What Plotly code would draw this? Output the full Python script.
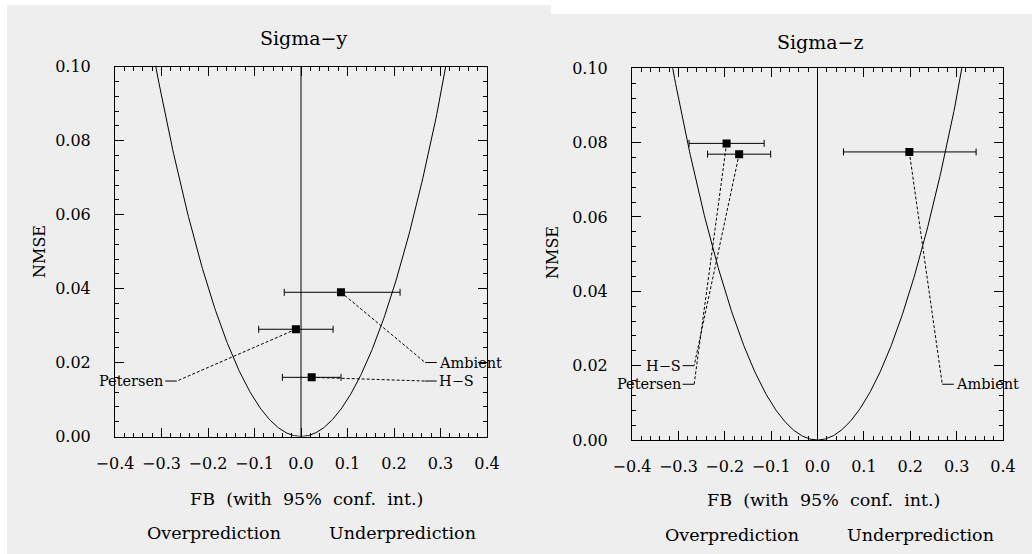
import numpy as np
import plotly.graph_objects as go

# ---- model performance data (FB, NMSE, 95% confidence interval on FB) ----
models = ["Ambient", "Petersen", "H−S"]

# Sigma-y panel
fb_sy = [0.086, -0.011, 0.023]
nmse_sy = [0.039, 0.029, 0.016]
fb_lo_sy = [-0.036, -0.091, -0.040]
fb_hi_sy = [0.213, 0.069, 0.086]

# Sigma-z panel
fb_sz = [0.198, -0.196, -0.169]
nmse_sz = [0.0775, 0.0798, 0.0769]
fb_lo_sz = [0.056, -0.277, -0.237]
fb_hi_sz = [0.342, -0.115, -0.101]

# callout anchors (where each model's leader line meets its label)
call_fb_sy = [0.267, -0.267, 0.267]
call_nmse_sy = [0.020, 0.015, 0.015]
call_fb_sz = [0.269, -0.266, -0.266]
call_nmse_sz = [0.015, 0.015, 0.020]

x_ticks = [-0.4, -0.3, -0.2, -0.1, 0.0, 0.1, 0.2, 0.3, 0.4]
y_ticks = [0.00, 0.02, 0.04, 0.06, 0.08, 0.10]

FONT = "DejaVu Serif"
INK = "black"
W, H = 1032, 554


def min_nmse(fb):
    """Lowest NMSE attainable for a given fractional bias."""
    return 4 * fb ** 2 / (4 - fb ** 2)


fb_curve = np.linspace(-0.4, 0.4, 401)
nmse_curve = min_nmse(fb_curve)

fig = go.Figure()


def add_panel(xr, yr, fb, nmse, lo, hi, call_fb, call_nmse):
    # minimum-NMSE parabola
    fig.add_trace(go.Scatter(x=fb_curve, y=nmse_curve, mode="lines",
                             line=dict(color=INK, width=1),
                             xaxis=xr, yaxis=yr, hoverinfo="skip"))
    # leader lines from each point to its label
    annotations = []
    for name, f, n, cf, cn in zip(models, fb, nmse, call_fb, call_nmse):
        side = 1 if cf > 0 else -1
        stub = cf + side * 0.025
        fig.add_trace(go.Scatter(x=[f, cf], y=[n, cn], mode="lines",
                                 line=dict(color=INK, width=1, dash="3px,2px"),
                                 xaxis=xr, yaxis=yr, hoverinfo="skip"))
        fig.add_trace(go.Scatter(x=[cf, stub], y=[cn, cn], mode="lines",
                                 line=dict(color=INK, width=1),
                                 xaxis=xr, yaxis=yr, hoverinfo="skip"))
        annotations.append(dict(
            x=stub, y=cn, xref=xr, yref=yr, text=name, showarrow=False,
            xanchor="left" if side > 0 else "right", yanchor="middle",
            font=dict(family=FONT, size=14.5, color=INK)))
    # points with confidence intervals
    fig.add_trace(go.Scatter(
        x=fb, y=nmse, mode="markers",
        marker=dict(symbol="square", size=8, color=INK),
        error_x=dict(type="data", symmetric=False,
                     array=[h - f for h, f in zip(hi, fb)],
                     arrayminus=[f - l for f, l in zip(fb, lo)],
                     color=INK, thickness=1, width=3.5),
        xaxis=xr, yaxis=yr, hoverinfo="skip"))
    return annotations


ann = []
ann += add_panel("x", "y", fb_sy, nmse_sy, fb_lo_sy, fb_hi_sy, call_fb_sy, call_nmse_sy)
ann += add_panel("x2", "y2", fb_sz, nmse_sz, fb_lo_sz, fb_hi_sz, call_fb_sz, call_nmse_sz)


def px_x(p):
    return p / W


def px_y(p):
    return 1 - p / H


text_font = dict(family=FONT, size=17.5, color=INK)
for label, cx, cy in [("Sigma−y", 304, 38), ("Sigma−z", 820, 42)]:
    ann.append(dict(x=px_x(cx), y=px_y(cy), xref="paper", yref="paper", text=label,
                    showarrow=False, xanchor="center", yanchor="middle",
                    font=dict(family=FONT, size=19, color=INK)))
for cx, cy in [(39, 252), (552, 253)]:
    ann.append(dict(x=px_x(cx), y=px_y(cy), xref="paper", yref="paper", text="NMSE",
                    showarrow=False, textangle=-90, xanchor="center", yanchor="middle",
                    font=dict(family=FONT, size=16, color=INK)))
for cx, cy in [(306, 499), (823, 500)]:
    ann.append(dict(x=px_x(cx), y=px_y(cy), xref="paper", yref="paper",
                    text="FB\u00a0 (with\u00a0 95%\u00a0 conf.\u00a0 int.)",
                    showarrow=False, xanchor="center", yanchor="middle", font=text_font))
for label, cx, cy in [("Overprediction", 214, 533), ("Underprediction", 402, 533),
                      ("Overprediction", 732, 535), ("Underprediction", 920, 535)]:
    ann.append(dict(x=px_x(cx), y=px_y(cy), xref="paper", yref="paper", text=label,
                    showarrow=False, xanchor="center", yanchor="middle", font=text_font))

tick_font = dict(family=FONT, size=16, color=INK)


def x_axis(domain, anchor):
    return dict(domain=domain, anchor=anchor, range=[-0.4, 0.4],
                tickmode="array", tickvals=x_ticks, tickformat=".1f",
                ticks="inside", ticklen=9, tickwidth=1, tickcolor=INK,
                minor=dict(dtick=0.02, tick0=0, ticks="inside", ticklen=4,
                           tickwidth=1, tickcolor=INK),
                showline=True, linecolor=INK, linewidth=1, mirror="ticks",
                showgrid=False, zeroline=False, tickfont=tick_font,
                ticklabelstandoff=12, automargin=False, fixedrange=True)


def y_axis(domain, anchor):
    return dict(domain=domain, anchor=anchor, range=[0, 0.1],
                tickmode="array", tickvals=y_ticks, tickformat=".2f",
                ticks="inside", ticklen=9, tickwidth=1, tickcolor=INK,
                minor=dict(dtick=0.004, tick0=0, ticks="inside", ticklen=4,
                           tickwidth=1, tickcolor=INK),
                showline=True, linecolor=INK, linewidth=1, mirror="ticks",
                showgrid=False, zeroline=False, tickfont=tick_font,
                ticklabelstandoff=20, automargin=False, fixedrange=True)


shapes = [
    # page panels
    dict(type="rect", xref="paper", yref="paper", x0=px_x(7), x1=px_x(551),
         y0=px_y(554), y1=px_y(5), fillcolor="#eeeeee", line=dict(width=0), layer="below"),
    dict(type="rect", xref="paper", yref="paper", x0=px_x(551), x1=1,
         y0=px_y(554), y1=px_y(14), fillcolor="#eeeeee", line=dict(width=0), layer="below"),
    # zero-bias reference lines
    dict(type="line", xref="x", yref="y domain", x0=0, x1=0, y0=0, y1=1,
         line=dict(color=INK, width=1)),
    dict(type="line", xref="x2", yref="y2 domain", x0=0, x1=0, y0=0, y1=1,
         line=dict(color=INK, width=1)),
]

fig.update_layout(
    width=W, height=H, autosize=False,
    margin=dict(l=0, r=0, t=0, b=0, autoexpand=False),
    paper_bgcolor="white", plot_bgcolor="rgba(0,0,0,0)",
    showlegend=False,
    xaxis=x_axis([px_x(115), px_x(487)], "y"),
    yaxis=y_axis([px_y(436.5), px_y(66.7)], "x"),
    xaxis2=x_axis([px_x(632), px_x(1003)], "y2"),
    yaxis2=y_axis([px_y(440), px_y(68.3)], "x2"),
    shapes=shapes,
    annotations=ann,
)

fig.write_html("out.html")
